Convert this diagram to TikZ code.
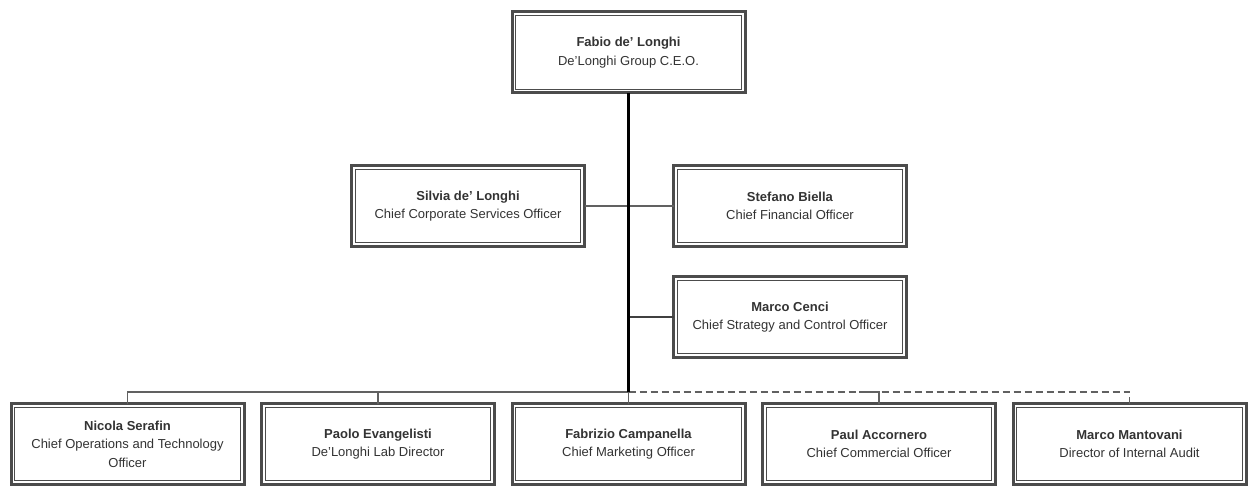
\documentclass[tikz,border=0pt]{standalone}
\usepackage{fontspec}
\setmainfont{Liberation Sans}
\usetikzlibrary{positioning}

\definecolor{boxgray}{gray}{0.3}
\definecolor{linegray}{gray}{0.38}
\definecolor{textgray}{gray}{0.2}

\begin{document}
\begin{tikzpicture}[%
	node distance=250.5pt,on grid,
	person/.style={draw=boxgray,line width=3pt,outer sep=0pt,fill=white,
		minimum width=233pt,minimum height=81pt,align=center,text=textgray,
		font=\fontsize{13}{18.5}\selectfont},
	inner box/.style={draw=boxgray,line width=1pt},
	trunk/.style={draw=black,line width=2.6pt},
	link/.style={draw=linegray,line width=1.9pt},
	drop/.style={draw=black!75,line width=1.5pt}]

	\useasboundingbox (0,0) rectangle (1253pt,-486pt);

	\node[person]	(CEO)	at (628.5pt,-52.5pt)	{\textbf{Fabio de' Longhi}\\De'Longhi Group C.E.O.};

	\node[person]	(CCSO)	[below left=153.5pt and 160.5pt of CEO]	{\textbf{Silvia de' Longhi}\\Chief Corporate Services Officer};
	\node[person]	(CFO)	[below right=153.5pt and 161.5pt of CEO]	{\textbf{Stefano Biella}\\Chief Financial Officer};
	\node[person]	(CSCO)	[below=111pt of CFO]	{\textbf{Marco Cenci}\\Chief Strategy and Control Officer};

	\node[person]	(CMO)	[below=391.5pt of CEO]	{\textbf{Fabrizio Campanella}\\Chief Marketing Officer};
	\node[person]	(LAB)	[left=of CMO]	{\textbf{Paolo Evangelisti}\\De'Longhi Lab Director};
	\node[person]	(COTO)	[left=of LAB]	{\textbf{Nicola Serafin}\\Chief Operations and Technology\\Officer};
	\node[person]	(CCO)	[right=of CMO]	{\textbf{Paul Accornero}\\Chief Commercial Officer};
	\node[person]	(DIA)	[right=of CCO]	{\textbf{Marco Mantovani}\\Director of Internal Audit};

	% inner line of the double frames
	\foreach \n in {CEO,CCSO,CFO,CSCO,COTO,LAB,CMO,CCO,DIA}
		\draw[inner box] ([shift={(3.9pt,-3.9pt)}]\n.north west) rectangle ([shift={(-3.9pt,3.9pt)}]\n.south east);

	\coordinate[below=339.5pt of CEO] (J);

	\draw[link] (CCSO) -- (CFO);
	\draw[drop] (CSCO.west) -- (CSCO.west -| J);

	\draw[link] (J) -| (COTO.north);
	\draw[link] (J) -| (LAB.north);
	\draw[link] (J) -- (CMO.north);
	\draw[link,dashed,dash pattern=on 7pt off 4pt] (J) -| (DIA.north);
	\draw[link] ([xshift=-20pt]J -| CCO.north) -| (CCO.north);

	\draw[trunk] (CEO.south) -- (J);

\end{tikzpicture}
\end{document}
